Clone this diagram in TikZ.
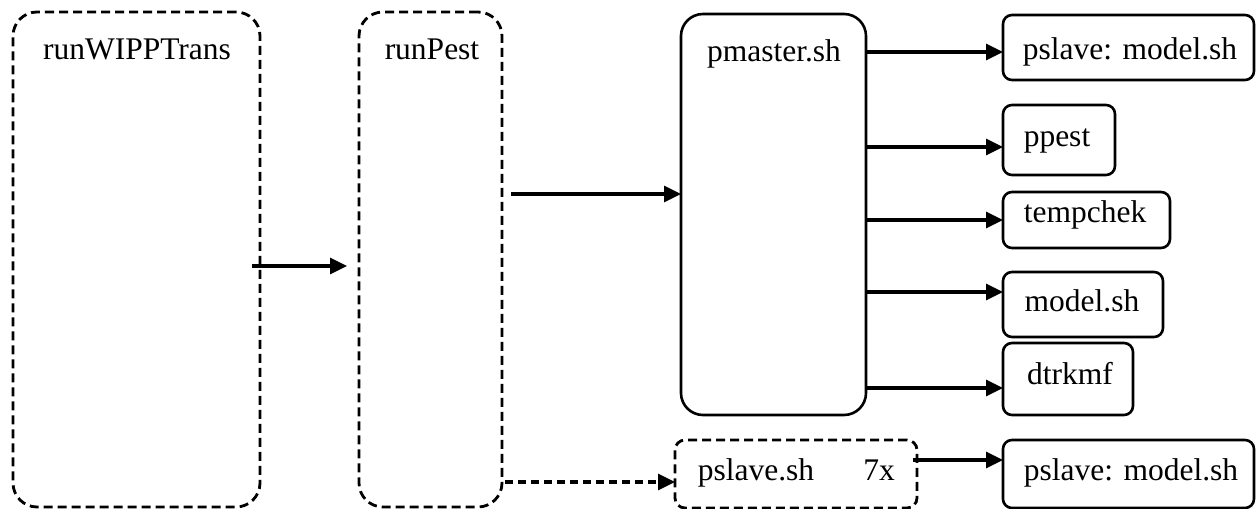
\documentclass[tikz,border=0pt]{standalone}
\usepackage{fontspec}
\setmainfont{Liberation Serif}
\usetikzlibrary{arrows.meta,calc}
\begin{document}
\begin{tikzpicture}[x=1bp,y=-1bp,
  boxbase/.style={draw=black, rectangle, inner sep=0pt, outer sep=0pt, line width=2.6bp},
  solidbox/.style={boxbase, rounded corners=9bp},
  bigbox/.style={boxbase, rounded corners=22bp},
  dashbox/.style={boxbase, line width=2.8bp, dash pattern=on 9bp off 5bp, rounded corners=24bp},
  smalldash/.style={boxbase, line width=2.8bp, dash pattern=on 9bp off 5bp, rounded corners=10bp},
  lbl/.style={anchor=base, inner sep=0pt, font=\fontsize{31.5bp}{38bp}\selectfont},
  arr/.style={line width=3.2bp, -{Triangle[length=17bp,width=16bp]}},
  darr/.style={arr, dash pattern=on 8bp off 5bp}
]
\fill[white] (0,0) rectangle (1257,509);
\useasboundingbox (0,0) rectangle (1257,509);

% boxes
\node[dashbox, minimum width=247bp, minimum height=495bp] (runW) at (136.5,259.5) {};
\node[dashbox, minimum width=143bp, minimum height=495bp] (runP) at (430.5,259.5) {};
\node[bigbox, minimum width=185bp, minimum height=401bp] (pmaster) at (773.5,214.5) {};
\node[solidbox, minimum width=251bp, minimum height=65bp] (pslaveT) at (1128.5,47.5) {};
\node[solidbox, minimum width=112bp, minimum height=70bp] (ppest) at (1059,140) {};
\node[solidbox, minimum width=167bp, minimum height=56bp] (tempchek) at (1086.5,220) {};
\node[solidbox, minimum width=160bp, minimum height=65bp] (model) at (1083,304.5) {};
\node[solidbox, minimum width=130bp, minimum height=72bp] (dtrkmf) at (1068,379) {};
\node[smalldash, minimum width=242bp, minimum height=68bp] (pslavesh) at (796,474) {};
\node[solidbox, minimum width=251bp, minimum height=68bp] (pslaveB) at (1128.5,474) {};

% labels
\node[lbl] (tW) at (137,60) {runWIPPTrans};
\node[lbl] (tP) at (432,60) {runPest};
\node[lbl] (tM) at (774,62) {pmaster.sh};
\node[lbl] (tST) at (1130,60) {pslave: model.sh};
\node[lbl] (tpp) at (1057,147) {ppest};
\node[lbl] (ttc) at (1085,223) {tempchek};
\node[lbl] (tmo) at (1082,312) {model.sh};
\node[lbl] (tdt) at (1070,385) {dtrkmf};
\node[lbl] (tps) at (756,480) {pslave.sh};
\node[lbl] (t7x) at (879,480) {7x};
\node[lbl] (tSB) at (1131,480) {pslave: model.sh};

% arrow end points
\coordinate (e1) at (347,266);
\coordinate (e2) at (681,194);
\coordinate (e3) at (675,482);
\coordinate (a1) at (1003,52);
\coordinate (a2) at (1003,147);
\coordinate (a3) at (1003,220);
\coordinate (a4) at (1003,292);
\coordinate (a5) at (1003,388);
\coordinate (a6) at (1003,460);

% connectors
\draw[arr] ([xshift=-8bp]runW.east |- e1) -- (e1);
\draw[arr] ([xshift=9bp]runP.east |- e2) -- (pmaster.west |- e2);
\draw[darr] ([xshift=3bp]runP.east |- e3) -- (pslavesh.west |- e3);
\draw[arr] (pmaster.east |- a1) -- (pslaveT.west |- a1);
\draw[arr] (pmaster.east |- a2) -- (ppest.west |- a2);
\draw[arr] (pmaster.east |- a3) -- (tempchek.west |- a3);
\draw[arr] (pmaster.east |- a4) -- (model.west |- a4);
\draw[arr] (pmaster.east |- a5) -- (dtrkmf.west |- a5);
\draw[arr] ([xshift=-4bp]pslavesh.east |- a6) -- (pslaveB.west |- a6);
\end{tikzpicture}
\end{document}
